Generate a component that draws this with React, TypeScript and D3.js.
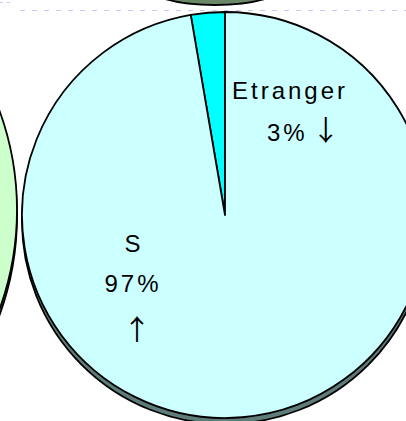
import React from "react";
import * as d3 from "d3";

const categories = ["Etranger", "S"];
const values = [2.7, 97.3];
const percentLabels = ["3%", "97%"];
const trendArrows = ["↓", "↑"];
const sliceColors = ["#00FFFF", "#CCFFFF"];

const W = 406;
const H = 421;
const FONT = "'Liberation Sans', Arial, sans-serif";
const ARROW_FONT = "'Noto Sans CJK JP', 'DejaVu Sans', sans-serif";

export default function App() {
  const cx = 225;
  const cy = 215;
  const r = 203;
  const shadowDy = 6;
  const total = d3.sum(values);
  const a0 = -(values[0] / total) * 2 * Math.PI;
  const pie = d3
    .pie<number>()
    .sort(null)
    .value((d) => d)
    .startAngle(a0)
    .endAngle(a0 + 2 * Math.PI);
  const arcs = pie(values);
  const arc = d3.arc<d3.PieArcDatum<number>>().innerRadius(0).outerRadius(r);

  // neighbouring (cropped) pies
  const leftR = 290;
  const leftCx = 17 - leftR;
  const leftCy = 210;

  const textStyle: React.CSSProperties = {
    fontFamily: FONT,
    fontSize: 24,
    letterSpacing: 3,
  };
  const arrowStyle: React.CSSProperties = {
    fontFamily: ARROW_FONT,
    fontSize: 28,
    letterSpacing: 0,
  };

  return (
    <svg
      width={W}
      height={H}
      style={{ position: "fixed", left: 0, top: 0, display: "block", background: "#fff" }}
    >
      {/* dashed line behind */}
      <line x1={20} x2={W} y1={10.5} y2={10.5} stroke="#c8c8f4" strokeWidth={1} strokeDasharray="5,7" />
      <line x1={0} x2={10} y1={2.5} y2={2.5} stroke="#c8c8f4" strokeWidth={1} strokeDasharray="3,4" />
      {/* top neighbouring pie bottom */}
      <ellipse cx={215} cy={-15} rx={70} ry={20} fill="#6a8866" stroke="#000" strokeWidth={1.8} />

      {/* left neighbouring pie */}
      <circle cx={leftCx} cy={leftCy + shadowDy} r={leftR} fill="#5e7d7a" stroke="#000" strokeWidth={1.8} />
      <circle cx={leftCx} cy={leftCy} r={leftR} fill="#CCFFCC" stroke="#000" strokeWidth={1.8} />

      {/* main pie shadow */}
      <circle cx={cx} cy={cy + shadowDy} r={r} fill="#5e7d7a" stroke="#000" strokeWidth={1.8} />
      <g transform={`translate(${cx},${cy})`}>
        {arcs.map((a, i) => (
          <path
            key={categories[i]}
            d={arc(a) || ""}
            fill={sliceColors[i]}
            stroke="#000"
            strokeWidth={1.8}
            strokeLinejoin="round"
          />
        ))}
      </g>

      {/* labels */}
      <g style={textStyle} fill="#000">
        <text x={290} y={99} textAnchor="middle">{categories[0]}</text>
        <text x={267} y={141}>
          {percentLabels[0]}
          <tspan dx={4} style={arrowStyle}>{trendArrows[0]}</tspan>
        </text>
        <text x={134} y={252} textAnchor="middle">{categories[1]}</text>
        <text x={133} y={292} textAnchor="middle">{percentLabels[1]}</text>
        <text x={137} y={340} textAnchor="middle" style={arrowStyle}>{trendArrows[1]}</text>
      </g>
    </svg>
  );
}
